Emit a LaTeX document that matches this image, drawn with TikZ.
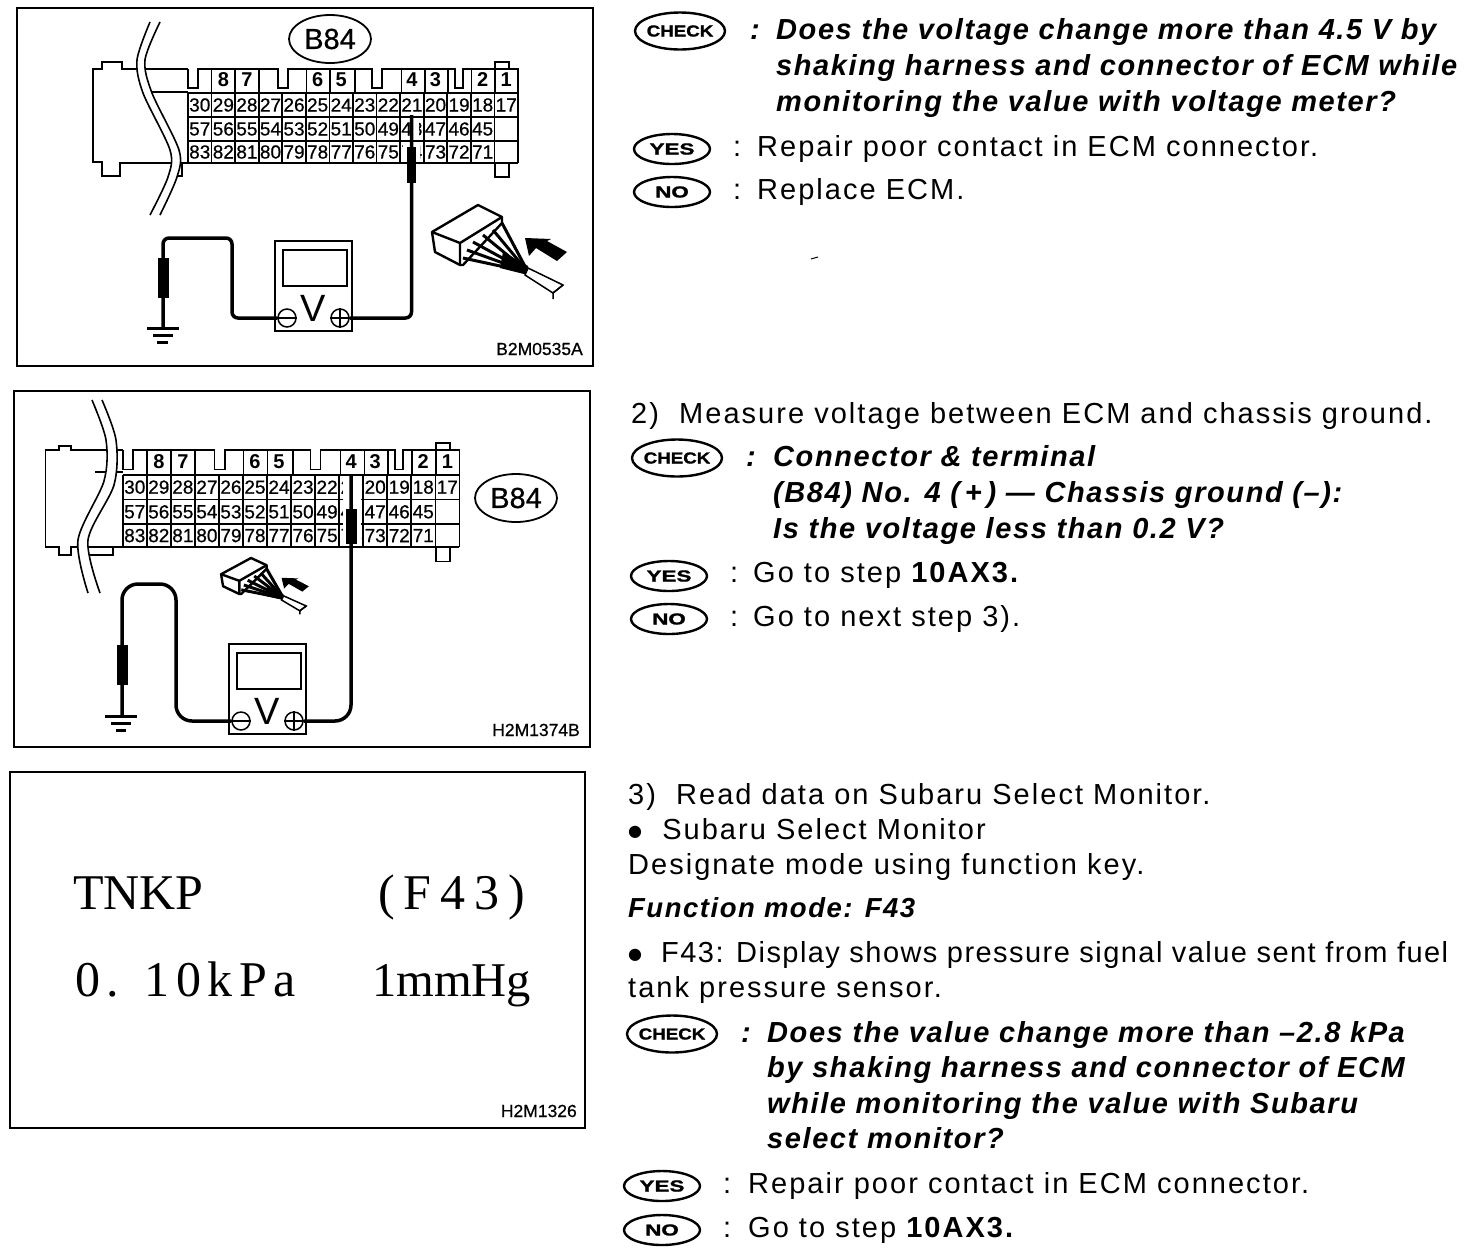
\documentclass[tikz,border=0pt]{standalone}
\usepackage{fontspec}
\usetikzlibrary{shapes.geometric}
\setmainfont{Liberation Sans}
\newfontfamily\bodyf[LetterSpace=7]{Liberation Sans}
\newfontfamily\bodytight[LetterSpace=5]{Liberation Sans}
\newfontfamily\headf[LetterSpace=5.5]{Liberation Sans}
\newfontfamily\plainf{Liberation Sans}
\newfontfamily\heavyf[FakeBold=1.2]{Liberation Sans}
\newfontfamily\cellf[FakeBold=0.6]{Liberation Sans}
\newfontfamily\symf{DejaVu Sans}
\newfontfamily\dispA{Liberation Serif}
\newfontfamily\dispB[LetterSpace=13]{Liberation Serif}
\newfontfamily\dispC[LetterSpace=18]{Liberation Serif}
\newcommand{\fsz}[1]{\fontsize{#1}{#1}\selectfont}
\tikzset{
  x=1pt,y=-1pt,
  frameline/.style={draw=black,line width=2pt},
  gridline/.style={draw=black,line width=1.6pt},
  wire/.style={draw=black,line width=3.5pt,rounded corners=6pt},
  wirel/.style={draw=black,line width=3.5pt,rounded corners=16pt},
  cellnum/.style={font=\cellf\fsz{19},inner sep=0pt},
  topnum/.style={font=\plainf\bfseries\fsz{20},inner sep=0pt},
  bodytext/.style={anchor=base west,inner sep=0pt,font=\bodyf\fsz{29}},
  headtext/.style={anchor=base west,inner sep=0pt,font=\headf\bfseries\itshape\fsz{29}},
  badge/.style={draw=black,line width=2.4pt,ellipse,inner sep=0pt,font=\heavyf\bfseries},
  bigbadge/.style={draw=black,line width=1.8pt,ellipse,inner sep=0pt,minimum width=82pt,minimum height=48pt,font=\cellf\fsz{29}},
  codelabel/.style={anchor=base east,inner sep=0pt,font=\cellf\fsz{17.5}},
  disp/.style={anchor=base west,inner sep=0pt},
  term/.style={circle,draw=black,line width=1.5pt,minimum size=18pt,inner sep=0pt},
}
\newcommand{\chk}[3]{\node[badge,minimum width=90pt,minimum height=37pt] (#1) at (#2,#3) {\makebox[0pt][c]{\scalebox{1.17}[1]{\fsz{16}CHECK}}};}
\newcommand{\yesb}[3]{\node[badge,minimum width=76pt,minimum height=30pt] (#1) at (#2,#3) {\makebox[0pt][c]{\scalebox{1.4}[1]{\fsz{16}YES}}};}
\newcommand{\nob}[3]{\node[badge,minimum width=76pt,minimum height=30pt] (#1) at (#2,#3) {\makebox[0pt][c]{\scalebox{1.4}[1]{\fsz{16}NO}}};}
\newcommand{\blt}{\raisebox{2.5pt}{\symf\fsz{16}●}}
% ECM connector terminal block, drawn in the coordinates of the upper panel
\newcommand{\ecmgrid}[1]{%
  \foreach \i in {0,...,14}{\draw[gridline] ({188+23.57*\i},93) -- ({188+23.57*\i},163);}
  \foreach \yy in {93,117,141}{\draw[gridline] (188,\yy) -- (518,\yy);}
  \draw[gridline] (188,163) -- (518,163);
  \draw[gridline] (188,69) -- (188,88) -- (198,88) -- (198,69) -- (259,69) -- (259,93);
  \draw[gridline] (211.6,69) -- (211.6,93) (235.1,69) -- (235.1,93);
  \draw[gridline] (259,69) -- (278,69) -- (278,88) -- (288,88) -- (288,69) -- (355,69) -- (355,93);
  \draw[gridline] (306.5,69) -- (306.5,93) (330,69) -- (330,93);
  \draw[gridline] (355,69) -- (372,69) -- (372,88) -- (382,88) -- (382,69) -- (448,69) -- (448,93);
  \draw[gridline] (401.5,69) -- (401.5,93) (425,69) -- (425,93);
  \draw[gridline] (448,69) -- (455,69) -- (455,88) -- (463,88) -- (463,69) -- (518,69) -- (518,93);
  \draw[gridline] (471.5,69) -- (471.5,93) (495,69) -- (495,93);
  \draw[gridline] (495,69) -- (495,62) -- (509,62) -- (509,69);
  \draw[gridline] (495,163) -- (495,177) -- (509,177) -- (509,163);
  \foreach \i/\n in {0/30,1/29,2/28,3/27,4/26,5/25,6/24,7/23,8/22,9/21,10/20,11/19,12/18,13/17}{
    \node[cellnum] (#1c\n) at ({188+23.57*(\i+.5)},105) {\n};}
  \foreach \i/\n in {0/57,1/56,2/55,3/54,4/53,5/52,6/51,7/50,8/49,9/48,10/47,11/46,12/45}{
    \node[cellnum] (#1c\n) at ({188+23.57*(\i+.5)},129) {\n};}
  \foreach \i/\n in {0/83,1/82,2/81,3/80,4/79,5/78,6/77,7/76,8/75,9/74,10/73,11/72,12/71}{
    \node[cellnum] (#1c\n) at ({188+23.57*(\i+.5)},152) {\n};}
  \foreach \i/\n in {1/8,2/7,5/6,6/5,9/4,10/3,12/2,13/1}{
    \node[topnum] (#1t\n) at ({188+23.57*(\i+.5)},80) {\n};}
}
% voltmeter, drawn in the coordinates of the upper panel
\newcommand{\vmeter}[1]{%
  \node[draw=black,line width=1.5pt,minimum width=77pt,minimum height=90pt,inner sep=0pt,fill=white] (#1body) at (313.5,286) {};
  \node[draw=black,line width=2pt,minimum width=64pt,minimum height=36pt,inner sep=0pt] (#1screen) at (314.5,267.5) {};
  \node[inner sep=0pt,font=\plainf\fsz{38}] (#1V) at (313,308) {V};
  \node[term] (#1minus) at (287,318) {};
  \node[term] (#1plus) at (340,318) {};
  \draw[line width=1.5pt] (#1minus.west) -- (#1minus.east);
  \draw[line width=1.5pt] (#1plus.west) -- (#1plus.east) (#1plus.north) -- (#1plus.south);
}
% loose plug with arrow, drawn in the coordinates of the upper panel
\newcommand{\plugpic}{%
  \draw[line width=2.4pt,fill=white,line join=round] (432,232) -- (478,205) -- (502,217) -- (502,223) -- (463,265) -- (460,265) -- (435,252) -- cycle;
  \draw[line width=2.4pt] (432,232) -- (460,243) -- (460,265) (460,243) -- (502,217);
  \foreach \a/\b in {502/223,493/230,483/235,473/242,467/250,463/258}{\draw[line width=3pt] (\a,\b) -- (528,272);}
  \fill (503,252) -- (528,266) -- (528,275) -- (500,268) -- cycle;
  \draw[line width=1.5pt,fill=white] (528,268) -- (563,285) -- (553,293) -- (525,275) -- cycle;
  \draw[line width=1.5pt] (563,285) -- (553,293) -- (553,299);
  \fill (525,238) -- (551,239) -- (547,241) -- (567,252) -- (557,261) -- (536,248) -- (529,256) -- cycle;
}
\begin{document}
\begin{tikzpicture}
\useasboundingbox (0,0) rectangle (1472,1254);
\fill[white] (0,0) rectangle (1472,1254);
% ---------- panel 1
\draw[frameline] (17,8) rectangle (593,366);
\draw[gridline] (188,69) -- (122,69) -- (122,62) -- (102,62) -- (102,69) -- (93,69) -- (93,162) -- (102,162) -- (102,176) -- (120,176) -- (120,163) -- (188,163);
\draw[gridline] (145,92) -- (188,92);
\draw[gridline] (173,163) -- (173,176) -- (182,176) -- (182,163);
\fill[white] plot[smooth] coordinates {(150,22) (137,60) (143,93) (170,150) (168,177) (150,215)} -- plot[smooth] coordinates {(160,215) (177,177) (179,150) (152,93) (145,60) (160,22)} -- cycle;
\draw[line width=1.6pt] plot[smooth] coordinates {(150,22) (137,60) (143,93) (170,150) (168,177) (150,215)};
\draw[line width=1.6pt] plot[smooth] coordinates {(160,22) (145,60) (152,93) (179,150) (177,177) (160,215)};
\ecmgrid{a}
\node[bigbadge] (b84a) at (330,39) {B84};
\vmeter{ma}
\plugpic
\fill[white] (403,142) rectangle (420,162);
\fill[white] (411,119) rectangle (419,139);
\coordinate (gnda) at (163,328);
\coordinate (proba) at (411.5,115);
\draw[wire] (maminus.west) -- (232,318) -- (232,238) -- (163,238) -- (gnda);
\draw[wire] (maplus.east) -- (411.5,318) -- (proba);
\draw[line width=11pt] (163,258) -- (163,298);
\draw[line width=9pt] (411.5,147) -- (411.5,183);
\draw[line width=3pt] (147,328) -- (179,328);
\draw[line width=3pt] (153,335) -- (173,335);
\draw[line width=3pt] (157,342) -- (168,342);
\node[codelabel] (codea) at (583,355) {B2M0535A};
% ---------- panel 2
\draw[frameline] (14,391) rectangle (590,747);
\draw[gridline] (123,450) -- (71,450) -- (71,446) -- (59,446) -- (59,450) -- (45.5,450) -- (45.5,547) -- (59,547) -- (59,555) -- (71,555) -- (71,547) -- (123,547);
\draw[gridline] (95,472) -- (123,472);
\draw[gridline] (87,547) -- (87,555) -- (113,555) -- (113,547);
\fill[white] plot[smooth] coordinates {(92,400) (106,440) (104,481) (78,540) (88,593)} -- plot[smooth] coordinates {(100,593) (88,540) (114,485) (116,440) (102,400)} -- cycle;
\draw[line width=1.6pt] plot[smooth] coordinates {(92,400) (106,440) (104,481) (78,540) (88,593)};
\draw[line width=1.6pt] plot[smooth] coordinates {(102,400) (116,440) (114,485) (88,540) (100,593)};
\begin{scope}[shift={(-69,379)},xscale=1.02,yscale=1.03]
\ecmgrid{b}
\end{scope}
\node[bigbadge] (b84b) at (516,498) {B84};
\begin{scope}[shift={(-46,403)}]
\vmeter{mb}
\end{scope}
\begin{scope}[shift={(-59.7,435)},xscale=.65,yscale=.6]
\plugpic
\end{scope}
\fill[white] (343,479) rectangle (361,546);
\coordinate (gndb) at (122,715);
\coordinate (probb) at (351,476);
\draw[wirel] (mbminus.west) -- (176,721) -- (176,584) -- (122,584) -- (gndb);
\draw[wirel] (mbplus.east) -- (351,721) -- (probb);
\draw[line width=11pt] (122,645) -- (122,685);
\draw[line width=11pt] (351,509) -- (351,544);
\draw[line width=3pt] (105,716) -- (137,716);
\draw[line width=3pt] (111,723) -- (131,723);
\draw[line width=3pt] (116,730) -- (126,730);
\node[codelabel] (codeb) at (580,736) {H2M1374B};
% ---------- panel 3
\draw[frameline] (10,772) rectangle (585,1128);
\node[disp,font=\dispA\fsz{50}] (d1) at (73,909) {TNKP};
\node[disp,font=\dispC\fsz{50}] (d2) at (378,909) {(F43)};
\node[disp,font=\dispB\fsz{50}] (d3) at (75,996) {0. 10kPa};
\node[disp,font=\dispA\fsz{48.5}] (d4) at (372,996) {1mmHg};
\node[codelabel] (codec) at (577,1117) {H2M1326};
% ---------- right column, block 1
\chk{c1}{680}{31}
\yesb{y1}{672}{149}
\nob{n1}{672}{192}
\node[headtext] (h1a) at (750,39) {:};
\node[headtext] (h1b) at (776,39) {Does the voltage change more than 4.5 V by};
\node[headtext] (h1c) at (776,75) {shaking harness and connector of ECM while};
\node[headtext] (h1d) at (776,111) {monitoring the value with voltage meter?};
\node[bodytext] (r1a) at (733,156) {:};
\node[bodytext] (r1b) at (757,156) {Repair poor contact in ECM connector.};
\node[bodytext] (r1c) at (733,199) {:};
\node[bodytext] (r1d) at (757,199) {Replace ECM.};
\draw[line width=1pt] (811,259) -- (818,257);
% block 2
\node[bodytext] (s2) at (631,423) {2)\ \ Measure voltage between ECM and chassis ground.};
\chk{c2}{677}{458}
\yesb{y2}{669}{576}
\nob{n2}{669}{619}
\node[headtext] (h2a) at (746,466) {:};
\node[headtext] (h2b) at (773,466) {Connector \& terminal};
\node[headtext] (h2c) at (773,502) {(B84) No. 4 (\,+\,) — Chassis ground (–):};
\node[headtext] (h2d) at (773,538) {Is the voltage less than 0.2 V?};
\node[bodytext] (r2a) at (730,582) {:};
\node[bodytext] (r2b) at (753,582) {Go to step {\bfseries 10AX3.}};
\node[bodytext] (r2c) at (730,626) {:};
\node[bodytext] (r2d) at (753,626) {Go to next step 3).};
% block 3
\node[bodytext] (s3a) at (628,804) {3)\ \ Read data on Subaru Select Monitor.};
\node[bodytext] (s3b) at (628,839) {\blt\ \ Subaru Select Monitor};
\node[bodytext] (s3c) at (628,874) {Designate mode using function key.};
\node[headtext,font=\headf\bfseries\itshape\fsz{27.5}] (s3d) at (628,917) {Function mode: F43};
\node[bodytext,font=\bodytight\fsz{29}] (s3e) at (628,962) {\blt\ \ F43: Display shows pressure signal value sent from fuel};
\node[bodytext] (s3f) at (628,997) {tank pressure sensor.};
\chk{c3}{672}{1034}
\yesb{y3}{662}{1186}
\nob{n3}{662}{1230}
\node[headtext] (h3a) at (741,1042) {:};
\node[headtext] (h3b) at (767,1042) {Does the value change more than –2.8 kPa};
\node[headtext] (h3c) at (767,1077) {by shaking harness and connector of ECM};
\node[headtext] (h3d) at (767,1113) {while monitoring the value with Subaru};
\node[headtext] (h3e) at (767,1148) {select monitor?};
\node[bodytext] (r3a) at (723,1193) {:};
\node[bodytext] (r3b) at (748,1193) {Repair poor contact in ECM connector.};
\node[bodytext] (r3c) at (723,1237) {:};
\node[bodytext] (r3d) at (748,1237) {Go to step {\bfseries 10AX3.}};
\end{tikzpicture}
\end{document}
